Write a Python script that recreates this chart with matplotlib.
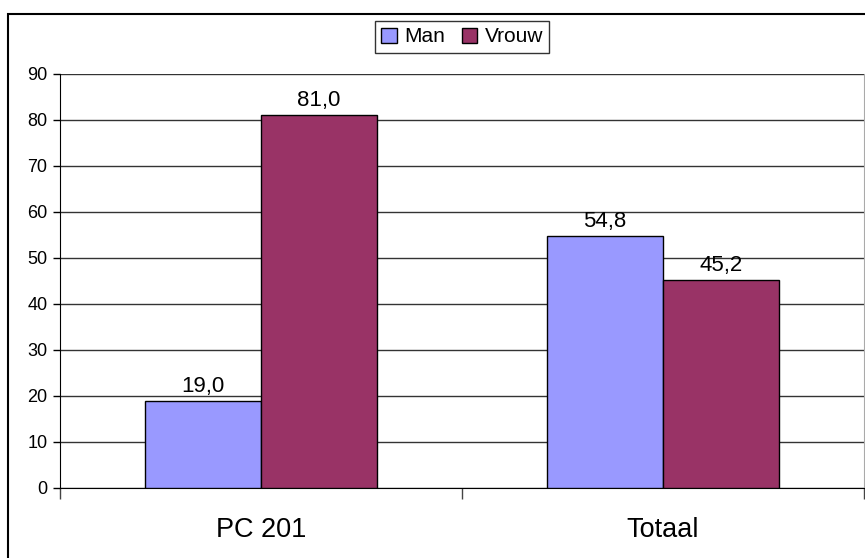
import numpy as np
import matplotlib
matplotlib.use('Agg')
import matplotlib.pyplot as plt
from matplotlib.patches import Rectangle

plt.rcParams['font.family'] = ['Liberation Sans', 'DejaVu Sans']

categories = ['PC 201', 'Totaal']
series = ['Man', 'Vrouw']
man = [19.0, 54.8]
vrouw = [81.0, 45.2]
colors = ['#9999FF', '#993366']
yticks = [0, 10, 20, 30, 40, 50, 60, 70, 80, 90]

W, H = 865, 558
fig = plt.figure(figsize=(W / 100, H / 100), dpi=100)
ax = fig.add_axes([60 / W, 70 / H, (864 - 60) / W, (488 - 74) / H])

x = np.arange(len(categories))
w = 0.289
b1 = ax.bar(x - w / 2, man, w, color=colors[0], edgecolor='black', linewidth=1, label=series[0], zorder=3)
b2 = ax.bar(x + w / 2, vrouw, w, color=colors[1], edgecolor='black', linewidth=1, label=series[1], zorder=3)

for bars in (b1, b2):
    for r in bars:
        v = r.get_height()
        ax.annotate(('%.1f' % v).replace('.', ','), (r.get_x() + r.get_width() / 2, v),
                    xytext=(0, 4), textcoords='offset pixels', ha='center', va='bottom', fontsize=16)

ax.set_xlim(-0.5, len(categories) - 0.5)
ax.set_ylim(0, 90)
ax.set_yticks(yticks)
ax.tick_params(axis='y', labelsize=13, length=5, width=1, pad=4)
ax.yaxis.grid(True, color='#333333', linewidth=1, zorder=0)

ax.set_xticks(x)
ax.set_xticklabels(categories, fontsize=19.5)
ax.tick_params(axis='x', length=0, pad=21)
ax.set_xticks([-0.5, 0.5, 1.5], minor=True)
ax.tick_params(axis='x', which='minor', length=8, width=1, color='#444444')

ax.spines['top'].set_visible(False)
ax.spines['right'].set_color('#aaaaaa')
ax.spines['left'].set_color('black')
ax.spines['bottom'].set_color('black')

leg = fig.legend(loc='center', bbox_to_anchor=(462 / W, 1 - 37 / H), ncol=2, fontsize=15,
                 frameon=True, fancybox=False, edgecolor='black', handlelength=0.75,
                 handleheight=0.75, handletextpad=0.35, columnspacing=0.8, borderpad=0.3)
leg.get_frame().set_linewidth(1)

fig.patches.append(Rectangle((8 / W, -0.1), 1.2, 1.1 - 14 / H, transform=fig.transFigure,
                             fill=False, edgecolor='black', linewidth=1.5, clip_on=False))

fig.savefig('out.png', dpi=100)
